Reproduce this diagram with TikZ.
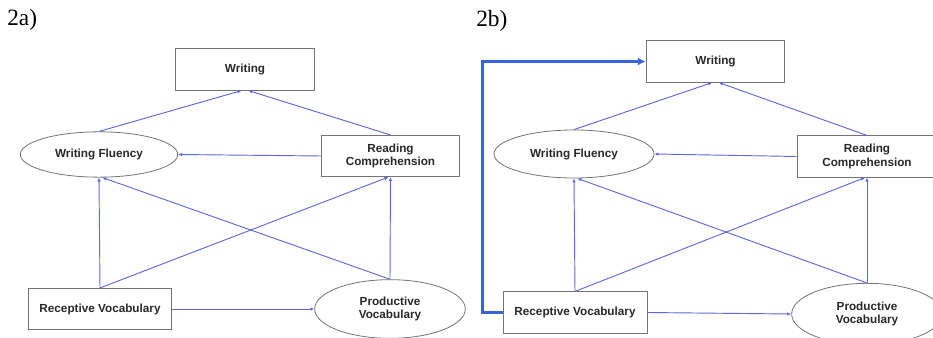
\documentclass[tikz,border=0pt]{standalone}
\usepackage{fontspec}
\setmainfont{Liberation Serif}
\newfontfamily\boxfont{Liberation Sans}
\usetikzlibrary{shapes.geometric,arrows.meta}

\definecolor{pfeilblau}{RGB}{95,105,215}
\definecolor{dickblau}{RGB}{55,100,215}
\definecolor{rahmengrau}{RGB}{115,115,120}
\definecolor{textgrau}{RGB}{40,40,40}

\begin{document}
\begin{tikzpicture}
		[
		x=0.75pt, y=-0.75pt, >=latex,
		%Voreinstellung für Kästen und Pfeile
		kasten/.style={draw=rahmengrau, line width=0.6pt, rectangle, align=center, text=textgrau, font=\boxfont\bfseries\fontsize{8.8}{10.4}\selectfont, minimum width=104pt, minimum height=31pt, inner sep=1pt},
		oval/.style={kasten, ellipse, minimum width=118pt, minimum height=34pt},
		pfeil/.style={->, pfeilblau, line width=0.7pt, >={Latex[length=3pt,width=2.6pt]}},
		]
		
		%Rahmen des Bildes
		\useasboundingbox (0,0) rectangle (933,338);
		\clip (0,0) rectangle (933,338);
		
		%Beschriftung der Teilbilder
		\node[anchor=west, inner sep=0pt, font=\fontsize{17.5}{20}\selectfont] (ta) at (7,20) {2a)};
		\node[anchor=west, inner sep=0pt, font=\fontsize{17.5}{20}\selectfont] (tb) at (476,21) {2b)};
		
		%Teilbild 2a
		\node[kasten] (wa) at (245,69.5) {Writing};
		\node[oval] (wfa) at (99,154.5) {Writing Fluency};
		\node[kasten] (rca) at (390.5,156) {Reading\\Comprehension};
		\node[kasten, minimum width=107pt] (rva) at (100,309) {Receptive Vocabulary};
		\node[oval, minimum width=113pt, minimum height=44pt] (pva) at (390,309) {Productive\\Vocabulary};
		
		\draw[pfeil] (wfa.north) -- ([xshift=-2.5pt]wa.south);
		\draw[pfeil] (rca.north) -- ([xshift=2.5pt]wa.south);
		\draw[pfeil] (rca.west) -- (wfa.east);
		\draw[pfeil] (rva.north) -- (wfa.south);
		\draw[pfeil] (rva.north) -- ([xshift=-1.5pt]rca.south);
		\draw[pfeil] (pva.north) -- ([xshift=2.5pt]wfa.south);
		\draw[pfeil] (pva.north) -- (rca.south);
		\draw[pfeil] (rva.east) -- (pva.west);
		
		%Teilbild 2b
		\node[kasten] (wb) at (715.5,61.5) {Writing};
		\node[oval, minimum width=120pt, minimum height=36pt] (wfb) at (574,154) {Writing Fluency};
		\node[kasten, minimum width=105pt] (rcb) at (867,156.5) {Reading\\Comprehension};
		\node[kasten, minimum width=108pt] (rvb) at (575,312.5) {Receptive Vocabulary};
		\node[oval, minimum width=113pt, minimum height=46pt] (pvb) at (867,314) {Productive\\Vocabulary};
		
		\draw[pfeil] (wfb.north) -- ([xshift=-2.5pt]wb.south);
		\draw[pfeil] (rcb.north) -- ([xshift=2.5pt]wb.south);
		\draw[pfeil] (rcb.west) -- (wfb.east);
		\draw[pfeil] (rvb.north) -- (wfb.south);
		\draw[pfeil] (rvb.north) -- ([xshift=-1.5pt]rcb.south);
		\draw[pfeil] (pvb.north) -- ([xshift=2.5pt]wfb.south);
		\draw[pfeil] (pvb.north) -- (rcb.south);
		\draw[pfeil] (rvb.east) -- (pvb.west);
		
		%dicker Pfeil
		\draw[->, dickblau, line width=2pt, >={Latex[length=6pt,width=6pt]}] (rvb.west) -- ++(-15pt,0) |- (wb.west);
		
\end{tikzpicture}
\end{document}
